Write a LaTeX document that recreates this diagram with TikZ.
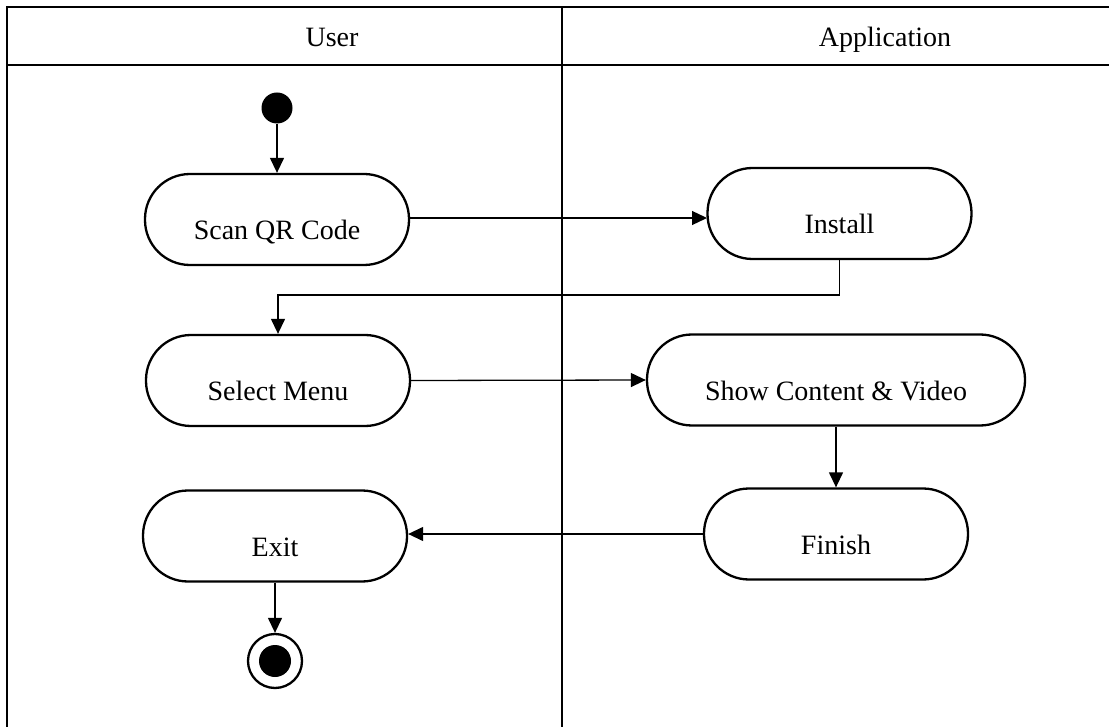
\documentclass[tikz,border=0pt]{standalone}
\usepackage{fontspec}
\setmainfont{Liberation Serif}
\usepackage{tikz}
\usetikzlibrary{arrows.meta,positioning,calc}

\begin{document}
\begin{tikzpicture}[x=1pt, y=-1pt,
    lane/.style={line width=2.3pt},
    activity/.style={draw, rectangle, rounded corners=45pt, line width=2.3pt,
        minimum width=264pt, minimum height=91pt, text height=40pt, text depth=0pt,
        font=\fontsize{28}{34}\selectfont},
    flow/.style={-{Triangle[length=15pt,width=14pt]}, line width=1.3pt},
    lanetitle/.style={anchor=base, font=\fontsize{28}{34}\selectfont}]
    \useasboundingbox (0,0) rectangle (1109,727);

    % Swimlane table
    \draw[lane] (7,727) -- (7,7) -- (1109,7);
    \draw[lane] (7,65) -- (1109,65);
    \draw[lane] (562,7) -- (562,727);
    \node[lanetitle] (user) at (332,47) {User};
    \node[lanetitle] (app) at (885,47) {Application};

    % Start and end
    \node[circle, fill=black, minimum size=31pt, inner sep=0pt] (start) at (277,108) {};
    \node[circle, draw, line width=2.3pt, minimum size=54pt, inner sep=0pt] (end) at (275,661) {};
    \fill (end) circle (16);

    % Activities
    \node[activity] (scan) at (277,219.5) {Scan QR Code};
    \node[activity] (install) at (839.5,213.5) {Install};
    \node[activity] (select) at (278,380.5) {Select Menu};
    \node[activity, minimum width=378pt] (show) at (836,380) {Show Content \& Video};
    \node[activity] (finish) at (836,534) {Finish};
    \node[activity] (exit) at (275,536) {Exit};
    \coordinate (turn) at (560,295);

    % Flows
    \draw[flow] (start) -- (scan);
    \draw[flow] (scan.east) ++(0,-1.5) -- (707,218);
    \draw[flow] (install.south) |- (turn) -| (select.north);
    \draw[flow] (select.east) -- (show.west);
    \draw[flow] (show.south) -- (finish.north);
    \draw[flow] (finish.west) -- (finish.west -| exit.east);
    \draw[flow] (exit) -- (end);
\end{tikzpicture}
\end{document}
